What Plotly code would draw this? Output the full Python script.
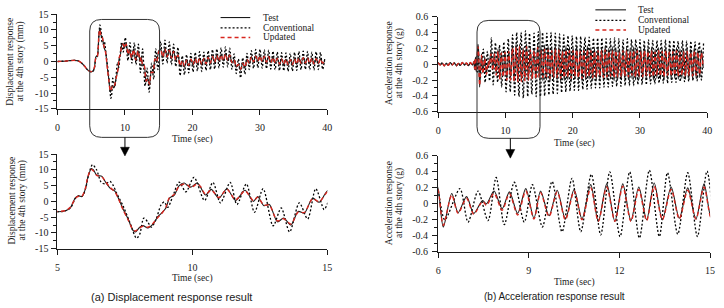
import plotly.graph_objects as go

W, H = 724, 308

# ---------------- Displacement at 4th story (mm) ----------------
disp_t_pre = [0, 0.5, 1.0, 1.5, 2.0, 2.5, 3.0, 3.5, 4.0, 4.4, 4.7]
disp_pre = [0, 0.05, 0.1, 0.2, 0.3, 0.35, 0.25, -0.3, -1.4, -2.5, -3.0]

disp_t_test_mid = [5.0, 5.3, 5.49, 5.67, 5.79, 5.91, 6.04, 6.13, 6.26, 6.34, 6.46, 6.65, 6.77, 6.95,
                   7.13, 7.26, 7.44, 7.62, 7.8, 7.89, 8.05, 8.17, 8.35, 8.54, 8.72, 8.84, 9.02, 9.15,
                   9.33, 9.51, 9.7, 9.82, 9.94, 10.18, 10.3, 10.49, 10.7, 10.98, 11.28, 11.6, 11.95,
                   12.26, 12.42, 12.65, 12.85, 13.15, 13.38, 13.65, 13.92, 14.15, 14.45, 14.7, 15.0]
disp_test_mid = [-3.3, -3.0, -1.9, 1.2, 1.7, 1.5, 4.0, 7.6, 10.4, 9.9, 8.3, 7.9, 6.3, 4.2,
                 3.2, 1.0, -2.6, -5.6, -9.2, -9.7, -8.2, -7.7, -8.4, -7.2, -4.9, -3.9, -2.1, 1.0,
                 2.0, 5.0, 5.8, 5.0, 4.5, 5.8, 4.5, 2.0, 3.8, 1.0, 4.0, 0.3, 3.5,
                 0.0, 1.5, -1.4, -1.0, -6.5, -5.3, -7.5, -3.2, -3.7, 1.0, -0.3, 3.3]
disp_upd_mid = [-3.2, -2.9, -1.8, 1.0, 1.6, 1.6, 4.2, 7.9, 10.1, 9.6, 8.2, 7.7, 6.4, 4.4,
                3.0, 0.8, -2.8, -5.9, -9.0, -9.4, -8.4, -7.9, -8.2, -7.0, -5.1, -4.1, -1.8, 1.2,
                2.2, 4.8, 5.5, 5.2, 4.3, 5.5, 4.7, 2.2, 3.6, 1.2, 3.8, 0.5, 3.3,
                0.2, 1.3, -1.2, -1.2, -6.2, -5.5, -7.2, -3.4, -3.5, 0.8, -0.1, 3.0]
disp_t_conv_mid = [5.0, 5.3, 5.5, 5.67, 5.8, 5.92, 6.05, 6.15, 6.3, 6.45, 6.62, 6.77, 6.95, 7.07,
                   7.2, 7.44, 7.68, 7.93, 8.05, 8.2, 8.35, 8.48, 8.66, 8.84, 8.96, 9.09, 9.27, 9.51,
                   9.76, 10.06, 10.45, 10.76, 11.04, 11.4, 11.65, 12.0, 12.3, 12.62, 12.99, 13.29,
                   13.6, 13.96, 14.27, 14.57, 14.88, 15.0]
disp_conv_mid = [-3.3, -3.0, -1.9, 1.0, 1.8, 1.6, 4.2, 8.2, 11.6, 10.0, 6.1, 5.5, 6.3, 5.0,
                 2.5, -1.6, -6.6, -11.7, -10.4, -5.3, -6.6, -8.2, -5.6, -1.1, -0.2, -1.9, 1.5, 6.1,
                 3.0, 7.6, 0.3, 6.0, -0.5, 6.0, -1.0, 5.5, -3.5, 4.0, -7.8, -2.1,
                 -9.7, -0.5, -5.6, 4.0, -2.6, -0.8]

disp_t_tail = [15.30, 15.62, 15.94, 16.26, 16.58, 16.90, 17.22, 17.54, 17.86, 18.18, 18.50, 18.82,
               19.14, 19.46, 19.78, 20.10, 20.42, 20.74, 21.06, 21.38, 21.70, 22.02, 22.34, 22.66,
               22.98, 23.30, 23.62, 23.94, 24.26, 24.58, 24.90, 25.22, 25.54, 25.86, 26.18, 26.50,
               26.82, 27.14, 27.46, 27.78, 28.10, 28.42, 28.74, 29.06, 29.38, 29.70, 30.02, 30.34,
               30.66, 30.98, 31.30, 31.62, 31.94, 32.26, 32.58, 32.90, 33.22, 33.54, 33.86, 34.18,
               34.50, 34.82, 35.14, 35.46, 35.78, 36.10, 36.42, 36.74, 37.06, 37.38, 37.70, 38.02,
               38.34, 38.66, 38.98, 39.30, 39.62]
disp_conv_tail = [6.4, -0.8, 6.8, -0.5, 6.2, -1.0, 5.5, -1.6, 4.5, -4.5, 1.8, -4.2, 2.2, -3.6, 2.6,
                  -3.3, 2.9, -3.0, 3.1, -3.2, 3.0, -2.8, 3.4, -2.6, 3.8, -2.4, 4.0, -2.0, 4.3, -1.8,
                  4.6, -1.7, 4.2, -2.5, 2.4, -3.8, 0.8, -5.2, 1.2, -4.0, 2.6, -2.6, 3.4, -2.2, 3.8,
                  -2.0, 3.9, -2.1, 3.7, -2.3, 3.6, -2.4, 3.3, -2.6, 3.0, -2.9, 2.8, -3.0, 2.7, -3.1,
                  2.6, -3.0, 2.9, -2.8, 3.2, -2.6, 3.3, -2.5, 3.2, -2.6, 3.0, -2.7, 3.1, -2.6, 2.9,
                  -2.5, 1.0]
disp_test_tail = [4.0, 1.2, 4.1, 1.3, 3.8, 0.9, 3.5, 0.4, 2.2, -1.6, 0.2, -1.8, 0.5, -1.4, 0.8,
                  -1.2, 1.0, -1.0, 1.1, -1.1, 1.2, -0.8, 1.5, -0.6, 1.8, -0.3, 2.1, 0.0, 2.3, 0.2,
                  2.5, 0.3, 2.2, -0.4, 0.6, -1.8, -0.8, -2.8, -0.4, -2.0, 0.8, -0.6, 1.6, -0.2, 1.9,
                  0.0, 2.0, -0.1, 1.8, -0.3, 1.6, -0.4, 1.4, -0.6, 1.1, -0.9, 0.9, -1.1, 0.8, -1.2,
                  0.7, -1.1, 0.9, -0.9, 1.2, -0.7, 1.3, -0.6, 1.2, -0.7, 1.1, -0.8, 1.0, -0.7, 0.9,
                  -0.6, 0.2]
disp_upd_tail = [3.8, 1.4, 3.9, 1.5, 3.6, 1.1, 3.2, 0.6, 2.0, -1.4, 0.3, -1.5, 0.4, -1.2, 0.7,
                 -1.0, 0.9, -0.8, 1.0, -0.9, 1.0, -0.7, 1.3, -0.5, 1.6, -0.2, 1.9, 0.1, 2.1, 0.3,
                 2.3, 0.4, 2.0, -0.3, 0.5, -1.6, -0.9, -2.5, -0.5, -1.8, 0.7, -0.5, 1.4, -0.1, 1.7,
                 0.1, 1.8, 0.0, 1.6, -0.2, 1.5, -0.3, 1.3, -0.5, 1.0, -0.8, 0.8, -0.9, 0.7, -1.0,
                 0.6, -1.0, 0.8, -0.8, 1.1, -0.6, 1.2, -0.5, 1.1, -0.6, 1.0, -0.7, 0.9, -0.6, 0.8,
                 -0.5, 0.2]

# ---------------- Acceleration at 4th story (g) ----------------
acc_t_pre = [0, 0.3, 0.6, 0.9, 1.2, 1.5, 1.8, 2.1, 2.4, 2.7, 3.0, 3.3, 3.6, 3.9, 4.2, 4.5, 4.8, 5.1]
acc_pre = [0.02, -0.01, 0.015, -0.02, 0.01, -0.015, 0.02, -0.01, 0.015, -0.02, 0.01, -0.015,
           0.02, -0.01, 0.015, -0.02, 0.02, -0.01]

acc_t_test_mid = [5.3, 5.42, 5.55, 5.68, 5.8, 5.92,
                  6.0, 6.17, 6.45, 6.66, 6.94, 7.18, 7.47, 7.6, 7.85, 8.12, 8.36, 8.63, 8.9, 9.17,
                  9.39, 9.67, 9.94, 10.21, 10.5, 10.76, 11.05, 11.3, 11.58, 11.85, 12.11, 12.38,
                  12.64, 12.9, 13.15, 13.42, 13.71, 13.98, 14.26, 14.53, 14.8, 15.03]
acc_test_mid = [0.03, -0.07, 0.09, -0.1, 0.1, 0.25,
                0.19, -0.29, 0.13, -0.11, 0.09, -0.12, 0.04, 0.0, 0.16, -0.06, 0.15, -0.12, 0.19,
                -0.18, 0.16, -0.15, 0.17, -0.19, 0.18, -0.19, 0.24, -0.22, 0.25, -0.22, 0.25,
                -0.21, 0.21, -0.2, 0.26, -0.2, 0.21, -0.18, 0.2, -0.19, 0.25, -0.17]
acc_upd_mid = [0.03, -0.06, 0.08, -0.09, 0.09, 0.22,
               0.17, -0.27, 0.11, -0.12, 0.07, -0.13, 0.03, -0.02, 0.13, -0.08, 0.13, -0.14, 0.16,
               -0.19, 0.14, -0.16, 0.15, -0.2, 0.16, -0.2, 0.2, -0.22, 0.21, -0.22, 0.22,
               -0.22, 0.18, -0.21, 0.22, -0.2, 0.18, -0.19, 0.17, -0.19, 0.21, -0.17]
acc_t_conv_mid = [5.3, 5.4, 5.55, 5.7, 5.85, 5.98, 6.22, 6.72, 6.99, 7.32, 7.65, 7.92, 8.19, 8.52,
                  8.85, 9.12, 9.45, 9.77, 10.1, 10.43, 10.72, 11.07, 11.38, 11.68, 12.02, 12.34,
                  12.66, 12.99, 13.32, 13.59, 13.93, 14.26, 14.58, 14.9]
acc_conv_mid = [0.0, 0.05, -0.07, 0.09, -0.1, 0.16, -0.2, 0.19, -0.23, 0.16, -0.21, 0.33, -0.26,
                0.27, -0.23, 0.24, -0.29, 0.28, -0.35, 0.32, -0.35, 0.37, -0.39, 0.4, -0.41, 0.4,
                -0.43, 0.42, -0.41, 0.39, -0.38, 0.39, -0.41, 0.41]

acc_t_test_tail = [15.30, 15.57, 15.83, 16.10, 16.36, 16.63, 16.89, 17.16, 17.42, 17.69, 17.95,
                   18.22, 18.48, 18.75, 19.01, 19.28, 19.54, 19.81, 20.07, 20.34, 20.60, 20.87,
                   21.13, 21.40, 21.66, 21.93, 22.19, 22.46, 22.72, 22.99, 23.25, 23.52, 23.78,
                   24.05, 24.31, 24.58, 24.84, 25.11, 25.37, 25.64, 25.90, 26.17, 26.43, 26.70,
                   26.96, 27.23, 27.49, 27.76, 28.02, 28.29, 28.55, 28.82, 29.08, 29.35, 29.61,
                   29.88, 30.14, 30.41, 30.67, 30.94, 31.20, 31.47, 31.73, 32.00, 32.26, 32.53,
                   32.79, 33.06, 33.32, 33.59, 33.85, 34.12, 34.38, 34.65, 34.91, 35.18, 35.44,
                   35.71, 35.97, 36.24, 36.50, 36.77, 37.03, 37.30, 37.56, 37.83, 38.09, 38.36,
                   38.62, 38.89, 39.15, 39.42]
acc_test_tail = [0.22, -0.21, 0.24, -0.2, 0.23, -0.22, 0.21, -0.2, 0.24, -0.21,
                 0.22, -0.23, 0.2, -0.21, 0.23, -0.2, 0.22, -0.22, 0.21, -0.19,
                 0.23, -0.21, 0.2, -0.22, 0.22, -0.2, 0.23, -0.19, 0.21, -0.21,
                 0.2, -0.2, 0.22, -0.19, 0.21, -0.21, 0.23, -0.2, 0.2, -0.19,
                 0.22, -0.21, 0.21, -0.2, 0.19, -0.2, 0.22, -0.19, 0.21, -0.2,
                 0.2, -0.18, 0.22, -0.2, 0.21, -0.19, 0.2, -0.2, 0.22, -0.18,
                 0.2, -0.19, 0.21, -0.2, 0.19, -0.18, 0.21, -0.19, 0.2, -0.2,
                 0.21, -0.18, 0.19, -0.19, 0.2, -0.18, 0.21, -0.19, 0.19, -0.18,
                 0.2, -0.19, 0.2, -0.18, 0.19, -0.19, 0.21, -0.18, 0.19, -0.17,
                 0.18, -0.05]
acc_upd_tail = [0.17, -0.17, 0.19, -0.16, 0.18, -0.18, 0.17, -0.16, 0.19, -0.17,
                0.18, -0.18, 0.16, -0.17, 0.18, -0.16, 0.17, -0.18, 0.17, -0.15,
                0.18, -0.17, 0.16, -0.18, 0.17, -0.16, 0.18, -0.15, 0.17, -0.17,
                0.16, -0.16, 0.17, -0.15, 0.17, -0.17, 0.18, -0.16, 0.16, -0.15,
                0.17, -0.17, 0.17, -0.16, 0.15, -0.16, 0.17, -0.15, 0.17, -0.16,
                0.16, -0.14, 0.17, -0.16, 0.17, -0.15, 0.16, -0.16, 0.17, -0.14,
                0.16, -0.15, 0.17, -0.16, 0.15, -0.14, 0.17, -0.15, 0.16, -0.16,
                0.17, -0.14, 0.15, -0.15, 0.16, -0.14, 0.17, -0.15, 0.15, -0.14,
                0.16, -0.15, 0.16, -0.14, 0.15, -0.15, 0.17, -0.14, 0.15, -0.13,
                0.14, -0.04]
acc_t_conv_tail = [15.21, 15.53, 15.84, 16.16, 16.47, 16.79, 17.10, 17.42, 17.73, 18.05, 18.36,
                   18.68, 18.99, 19.31, 19.62, 19.94, 20.25, 20.57, 20.88, 21.20, 21.51, 21.83,
                   22.14, 22.46, 22.77, 23.09, 23.40, 23.72, 24.03, 24.35, 24.66, 24.98, 25.29,
                   25.61, 25.92, 26.24, 26.55, 26.87, 27.18, 27.50, 27.81, 28.13, 28.44, 28.76,
                   29.07, 29.39, 29.70, 30.02, 30.33, 30.65, 30.96, 31.28, 31.59, 31.91, 32.22,
                   32.54, 32.85, 33.17, 33.48, 33.80, 34.11, 34.43, 34.74, 35.06, 35.37, 35.69,
                   36.00, 36.32, 36.63, 36.95, 37.26, 37.58, 37.89, 38.21, 38.52, 38.84, 39.15,
                   39.47]
acc_conv_tail = [-0.41, 0.4, -0.4, 0.39, -0.39, 0.4, -0.38, 0.39, -0.37, 0.38,
                 -0.36, 0.37, -0.35, 0.36, -0.34, 0.36, -0.33, 0.35, -0.33, 0.35,
                 -0.32, 0.34, -0.32, 0.34, -0.31, 0.33, -0.3, 0.33, -0.3, 0.33,
                 -0.29, 0.32, -0.29, 0.32, -0.28, 0.33, -0.28, 0.32, -0.28, 0.31,
                 -0.27, 0.32, -0.27, 0.31, -0.27, 0.31, -0.26, 0.31, -0.26, 0.3,
                 -0.26, 0.31, -0.25, 0.3, -0.25, 0.3, -0.24, 0.3, -0.24, 0.31,
                 -0.24, 0.3, -0.23, 0.3, -0.23, 0.29, -0.22, 0.3, -0.22, 0.29,
                 -0.22, 0.29, -0.21, 0.28, -0.21, 0.28, -0.2, 0.27]

# ---------------- Tick labels / text ----------------
series_names = ["Test", "Conventional", "Updated"]
x_full_ticks = [0, 10, 20, 30, 40]
x_disp_zoom_ticks = [5, 10, 15]
x_acc_zoom_ticks = [6, 9, 12, 15]
y_disp_ticks = [-15, -10, -5, 0, 5, 10, 15]
y_disp_labels = ["-15", "-10", "-5", "0", "5", "10", "15"]
y_disp_minor = [-12.5, -7.5, -2.5, 2.5, 7.5, 12.5]
y_acc_ticks = [-0.6, -0.4, -0.2, 0, 0.2, 0.4, 0.6]
y_acc_labels = ["-0.6", "-0.4", "-0.2", "0", "0.2", "0.4", "0.6"]
y_acc_minor = [-0.5, -0.3, -0.1, 0.1, 0.3, 0.5]

# ---------------- assemble series ----------------
d_t_test = disp_t_pre + disp_t_test_mid + disp_t_tail
d_test = disp_pre + disp_test_mid + disp_test_tail
d_upd = disp_pre + disp_upd_mid + disp_upd_tail
d_t_conv = disp_t_pre + disp_t_conv_mid + disp_t_tail
d_conv = disp_pre + disp_conv_mid + disp_conv_tail

a_t_test = acc_t_pre + acc_t_test_mid + acc_t_test_tail
a_test = acc_pre + acc_test_mid + acc_test_tail
a_upd = acc_pre + acc_upd_mid + acc_upd_tail
a_t_conv = acc_t_pre + acc_t_conv_mid + acc_t_conv_tail
a_conv = acc_pre + acc_conv_mid + acc_conv_tail

SERIF = "'Liberation Serif', 'Times New Roman', Times, serif"
SANS = "'Liberation Sans', Arial, sans-serif"
INK = "#1a1a1a"
RED = "#d8261e"
DOT = "2px,2px"
DASH = "4px,3px"

def px(x):
    return x / W

def py(y):
    return 1 - y / H

fig = go.Figure()

def add_set(xa, ya, tt, yt, tc, yc, yu):
    fig.add_trace(go.Scatter(x=tc, y=yc, mode="lines", name=series_names[1], xaxis=xa, yaxis=ya,
                             line=dict(color="black", width=1.3, dash=DOT, shape="spline", smoothing=0.8)))
    fig.add_trace(go.Scatter(x=tt, y=yt, mode="lines", name=series_names[0], xaxis=xa, yaxis=ya,
                             line=dict(color=INK, width=1.1, shape="spline", smoothing=0.8)))
    fig.add_trace(go.Scatter(x=tt, y=yu, mode="lines", name=series_names[2], xaxis=xa, yaxis=ya,
                             line=dict(color=RED, width=1.4, dash=DASH, shape="spline", smoothing=0.8)))

add_set("x", "y", d_t_test, d_test, d_t_conv, d_conv, d_upd)
add_set("x2", "y2", a_t_test, a_test, a_t_conv, a_conv, a_upd)
add_set("x3", "y3", d_t_test, d_test, d_t_conv, d_conv, d_upd)
add_set("x4", "y4", a_t_test, a_test, a_t_conv, a_conv, a_upd)

tickfont = dict(family=SERIF, size=10, color=INK)

def xax(x0, x1, anchor, rng, ticks):
    return dict(domain=[px(x0), px(x1)], anchor=anchor, range=rng, tickmode="array",
                tickvals=ticks, ticktext=[str(v) for v in ticks], ticks="outside", ticklen=5,
                tickwidth=1, tickcolor=INK, showline=True, linecolor=INK, linewidth=1,
                showgrid=False, zeroline=False, tickfont=tickfont, ticklabelstandoff=4,
                fixedrange=True)

def yax(ytop, ybot, anchor, rng, ticks, labels, minor, standoff):
    return dict(domain=[py(ybot), py(ytop)], anchor=anchor, range=rng, tickmode="array",
                tickvals=ticks, ticktext=labels, ticks="outside", ticklen=5, tickwidth=1,
                tickcolor=INK, showline=True, linecolor=INK, linewidth=1, showgrid=False,
                zeroline=False, tickfont=tickfont, ticklabelstandoff=standoff, fixedrange=True,
                minor=dict(tickmode="array", tickvals=minor, ticks="outside", ticklen=3,
                           tickwidth=1, tickcolor=INK, showgrid=False))

layout = dict(
    width=W, height=H, autosize=False, showlegend=False,
    margin=dict(l=0, r=0, t=0, b=0), paper_bgcolor="white", plot_bgcolor="white",
    hovermode=False,
    xaxis=xax(55, 328, "y", [0, 40], x_full_ticks),
    yaxis=yax(8.5, 107, "x", [-15, 15], y_disp_ticks, y_disp_labels, y_disp_minor, 1),
    xaxis2=xax(440, 712, "y2", [0, 40], x_full_ticks),
    yaxis2=yax(11, 110, "x2", [-0.6, 0.6], y_acc_ticks, y_acc_labels, y_acc_minor, 2),
    xaxis3=xax(55, 328, "y3", [5, 15], x_disp_zoom_ticks),
    yaxis3=yax(154, 252.5, "x3", [-15, 15], y_disp_ticks, y_disp_labels, y_disp_minor, 1),
    xaxis4=xax(440, 715, "y4", [6, 15], x_acc_zoom_ticks),
    yaxis4=yax(156, 255.7, "x4", [-0.6, 0.6], y_acc_ticks, y_acc_labels, y_acc_minor, 2),
)
fig.update_layout(**layout)

annotations = []
shapes = []

def text(x, y, s, size=9.5, family=SERIF, angle=0, xanchor="center"):
    annotations.append(dict(x=px(x), y=py(y), xref="paper", yref="paper", text=s, showarrow=False,
                            textangle=angle, xanchor=xanchor, yanchor="middle",
                            font=dict(family=family, size=size, color=INK)))

# axis titles
text(7.5, 57.5, "Displacement response", angle=-90)
text(17.5, 57.5, "at the 4th story (mm)", angle=-90)
text(390.5, 59.5, "Acceleration response", angle=-90)
text(400.5, 59.5, "at the 4th story (g)", angle=-90)
text(9.5, 202, "Displacement response", angle=-90)
text(19.5, 202, "at the 4th story (mm)", angle=-90)
text(390.5, 205, "Acceleration response", angle=-90)
text(400.5, 205, "at the 4th story (g)", angle=-90)
text(191.5, 139, "Time (sec)")
text(577.5, 143.5, "Time (sec)")
text(191.5, 284, "Time (sec)")
text(578, 287.5, "Time (sec)")

# captions
text(170.5, 302.5, "(a) Displacement response result", size=11, family=SANS)
text(557.5, 302.5, "(b) Acceleration response result", size=10, family=SANS)

# legends
def legend(xl0, xl1, xt, rows):
    styles = [dict(color=INK, width=1.1), dict(color="black", width=1.3, dash=DOT),
              dict(color=RED, width=1.4, dash=DASH)]
    for name, st, yy in zip(series_names, styles, rows):
        shapes.append(dict(type="line", xref="paper", yref="paper", x0=px(xl0), x1=px(xl1),
                           y0=py(yy), y1=py(yy), line=st))
        text(xt, yy, name, size=9.5, xanchor="left")

legend(220, 250, 261, [12, 22.7, 32.7])
legend(599, 630, 640, [4, 15, 25])

# zoom-window frames and arrows
def rrect(x0, y0, x1, y1, r):
    pts = [("M", [(x0 + r, y0)]), ("L", [(x1 - r, y0)]), ("Q", [(x1, y0), (x1, y0 + r)]),
           ("L", [(x1, y1 - r)]), ("Q", [(x1, y1), (x1 - r, y1)]), ("L", [(x0 + r, y1)]),
           ("Q", [(x0, y1), (x0, y1 - r)]), ("L", [(x0, y0 + r)]), ("Q", [(x0, y0), (x0 + r, y0)])]
    path = " ".join(c + " " + " ".join(f"{px(a):.5f},{py(b):.5f}" for a, b in p) for c, p in pts) + " Z"
    shapes.append(dict(type="path", xref="paper", yref="paper", path=path,
                       line=dict(color="#333", width=1)))

def arrow(x, ytop, ytip):
    shapes.append(dict(type="line", xref="paper", yref="paper", x0=px(x), x1=px(x),
                       y0=py(ytop), y1=py(ytip - 6), line=dict(color="black", width=1)))
    path = f"M {px(x-4.5):.5f},{py(ytip-9):.5f} L {px(x+4.5):.5f},{py(ytip-9):.5f} L {px(x):.5f},{py(ytip):.5f} Z"
    shapes.append(dict(type="path", xref="paper", yref="paper", path=path,
                       fillcolor="black", line=dict(color="black", width=0.5)))

rrect(87.7, 14, 158.3, 136.7, 12)
rrect(479.3, 15, 543, 137.7, 12)
arrow(123.3, 136.7, 156)
arrow(513, 137.7, 158.3)

fig.update_layout(annotations=annotations, shapes=shapes)
fig.write_html("out.html")
